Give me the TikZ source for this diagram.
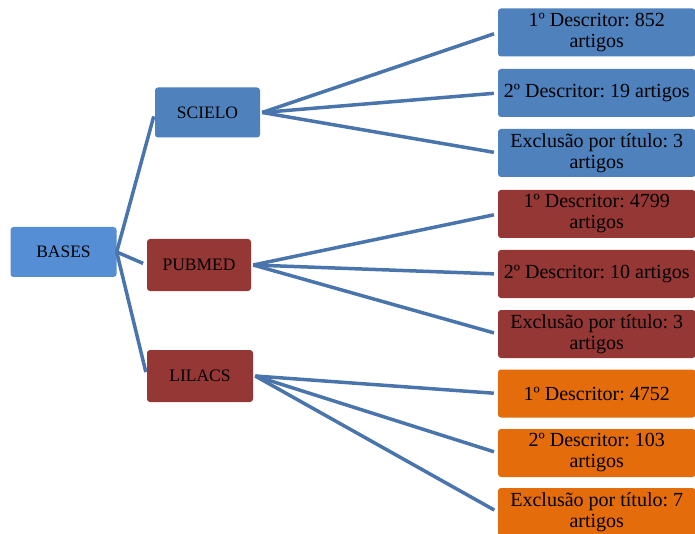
\documentclass[tikz,border=0pt]{standalone}
\usepackage{fontspec}
\setmainfont{Liberation Serif}
\frenchspacing
\definecolor{cbase}{HTML}{558ED5}
\definecolor{cblue}{HTML}{4F81BD}
\definecolor{cred}{HTML}{953735}
\definecolor{corange}{HTML}{E46C0A}
\definecolor{cline}{HTML}{4A75AC}
\tikzset{
  box/.style={rounded corners=3pt, inner sep=0pt, align=center, text=black},
  lbox/.style={box, font=\fontsize{17.5}{21}\selectfont, minimum width=105pt, minimum height=50pt},
  rbox/.style={box, font=\fontsize{20}{21}\selectfont, minimum width=197.5pt, minimum height=48pt},
  conn/.style={draw=cline, line width=3.5pt, shorten >=4pt}
}
\begin{document}
\begin{tikzpicture}[x=1pt,y=-1pt]
\useasboundingbox (0,0) rectangle (695,534);
\node[lbox, fill=cbase, minimum width=106pt] (bases) at (63.5,252) {BASES};
\node[lbox, fill=cblue] (scielo) at (207.5,112.5) {SCIELO};
\node[lbox, fill=cred, minimum width=104pt, minimum height=52pt] (pubmed) at (199,265) {PUBMED};
\node[lbox, fill=cred, minimum width=106pt, minimum height=52pt] (lilacs) at (200,376) {LILACS};

\node[rbox, fill=cblue] (s1) at (596.75,32.5) {1º Descritor: 852\\artigos};
\node[rbox, fill=cblue] (s2) at (596.75,93) {2º Descritor: 19 artigos};
\node[rbox, fill=cblue] (s3) at (596.75,153) {Exclusão por título: 3\\artigos};
\node[rbox, fill=cred] (p1) at (596.75,214) {1º Descritor: 4799\\artigos};
\node[rbox, fill=cred] (p2) at (596.75,274) {2º Descritor: 10 artigos};
\node[rbox, fill=cred] (p3) at (596.75,334) {Exclusão por título: 3\\artigos};
\node[rbox, fill=corange] (l1) at (596.75,393.5) {1º Descritor: 4752};
\node[rbox, fill=corange] (l2) at (596.75,453) {2º Descritor: 103\\artigos};
\node[rbox, fill=corange] (l3) at (596.75,512) {Exclusão por título: 7\\artigos};

\foreach \c in {scielo,pubmed,lilacs} \draw[conn] (bases.east) -- (\c.west);
\foreach \c in {s1,s2,s3} \draw[conn] ([xshift=2pt]scielo.east) -- (\c.west);
\foreach \c in {p1,p2,p3} \draw[conn] ([xshift=2pt]pubmed.east) -- (\c.west);
\foreach \c in {l1,l2,l3} \draw[conn] ([xshift=2pt]lilacs.east) -- (\c.west);
\end{tikzpicture}
\end{document}
